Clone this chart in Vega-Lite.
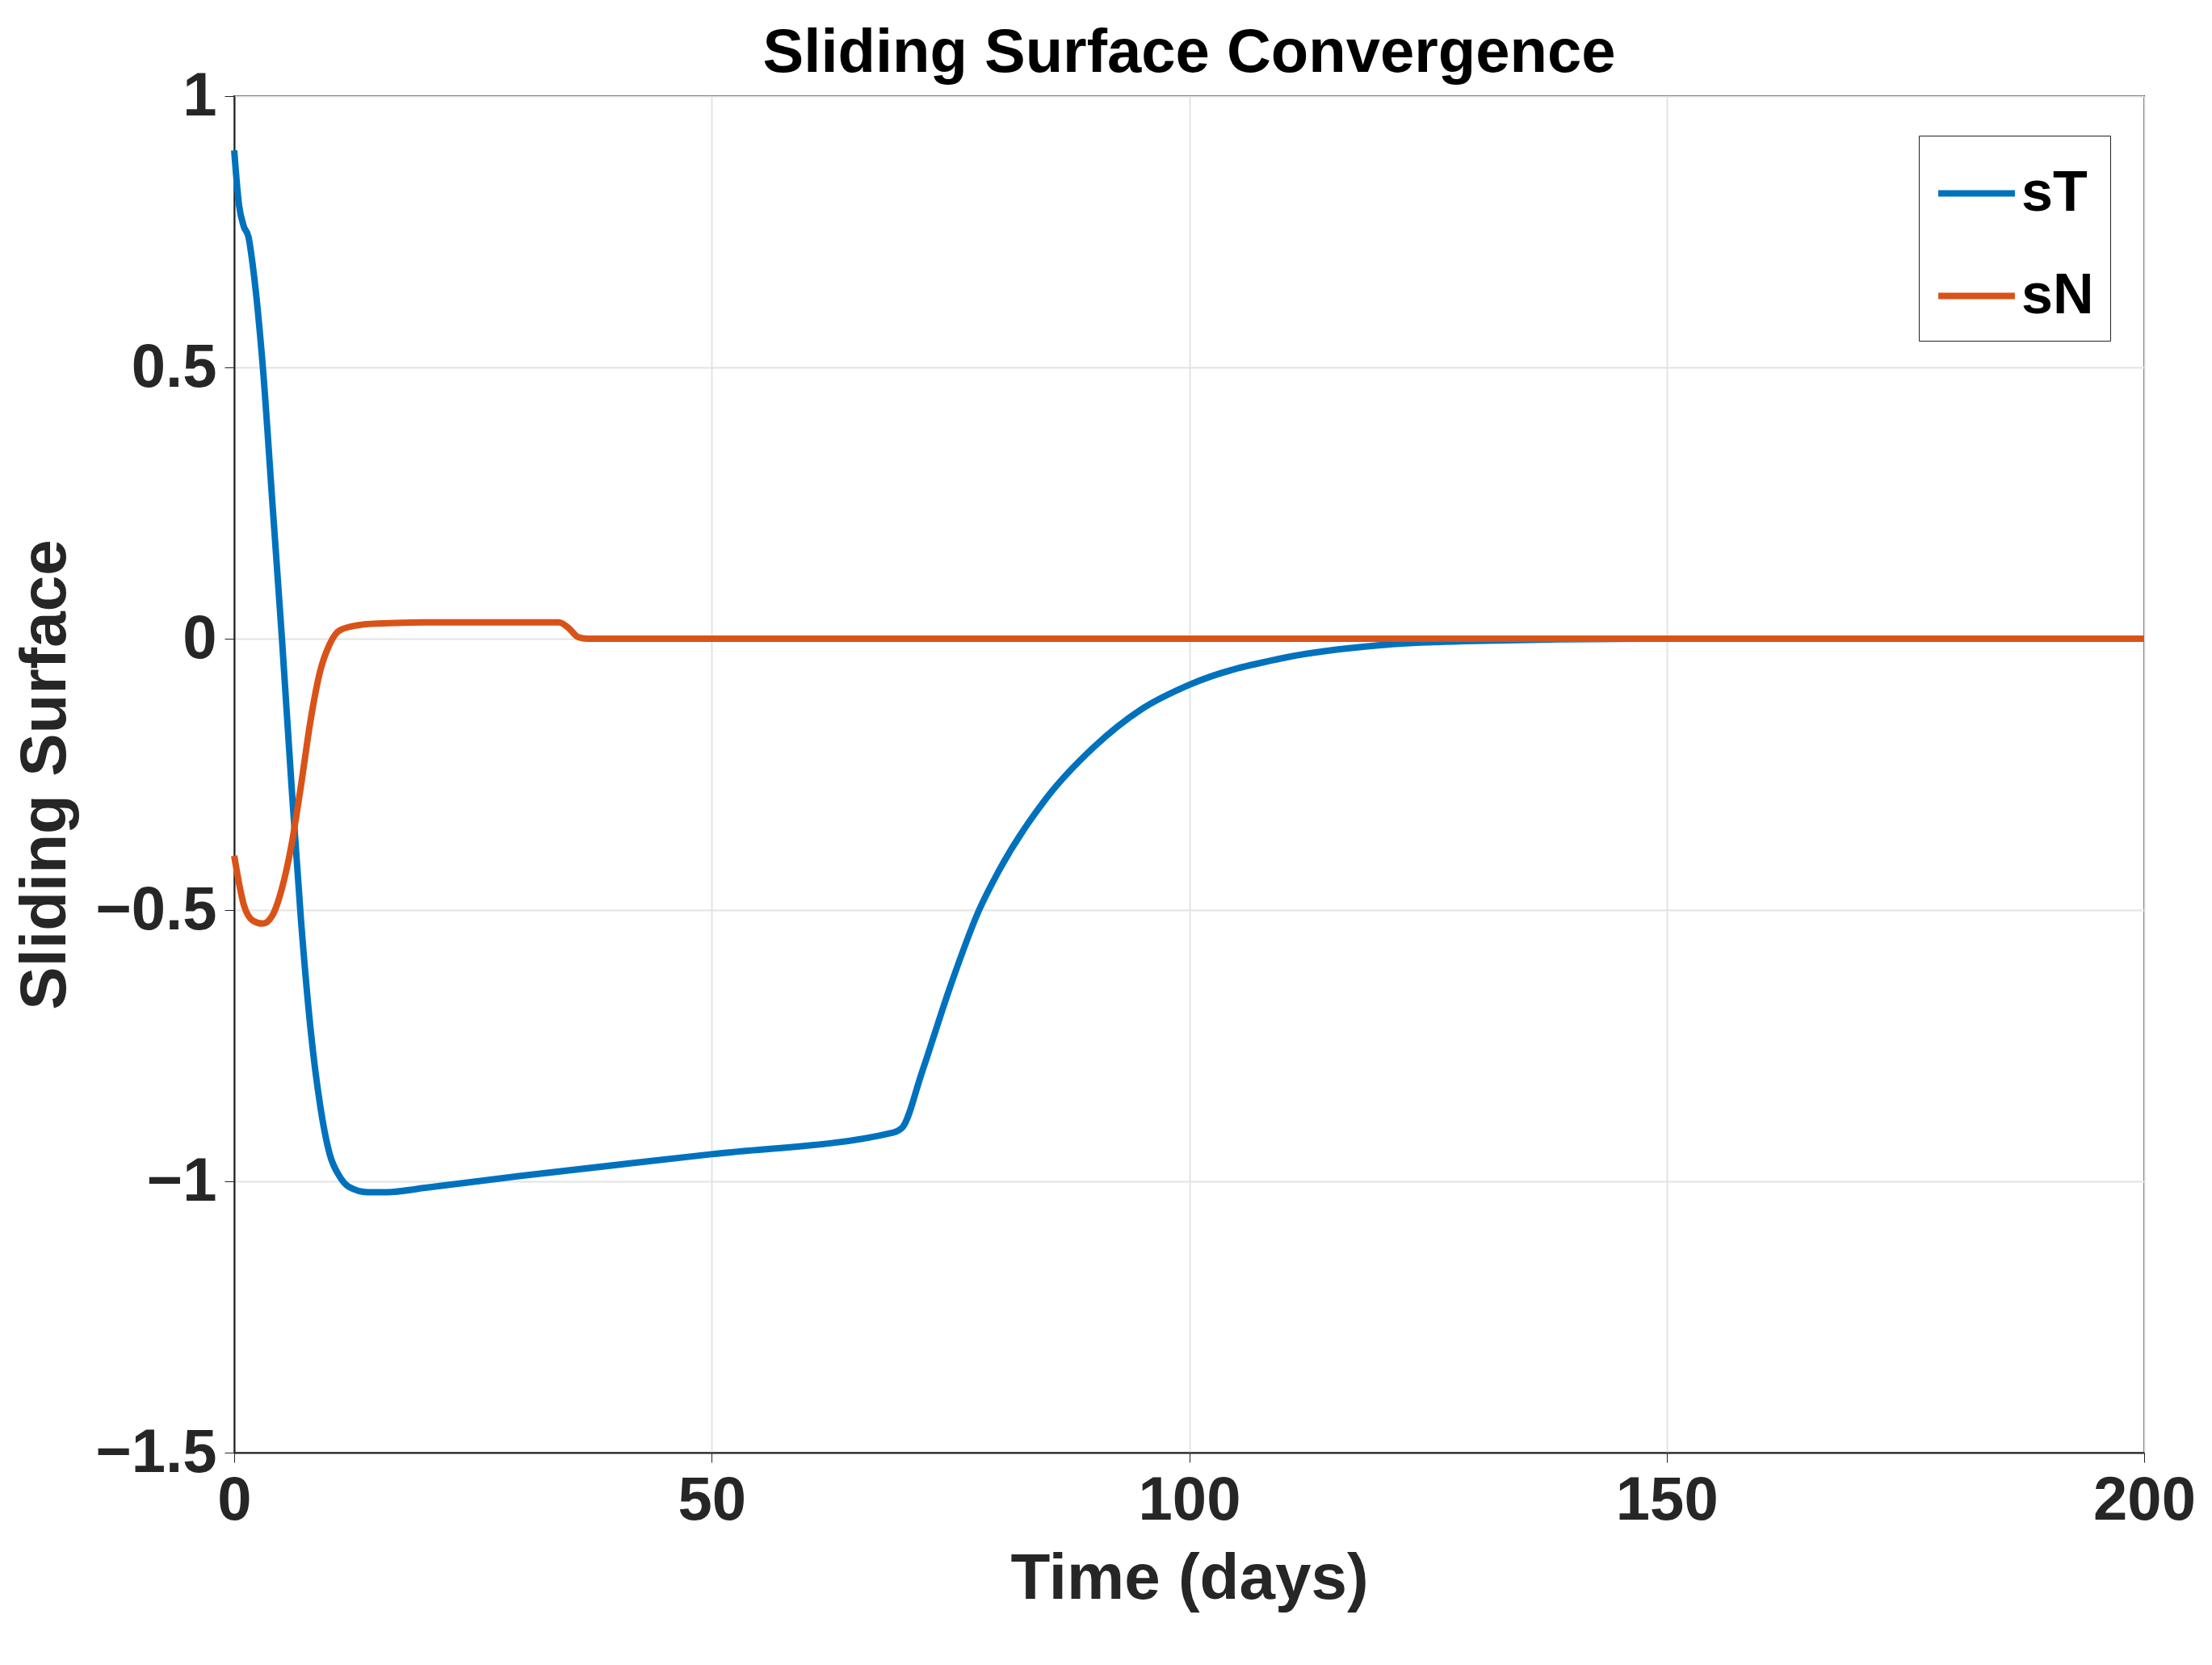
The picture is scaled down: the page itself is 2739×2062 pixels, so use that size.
{
"$schema":"https://vega.github.io/schema/vega-lite/v6.json",
"autosize":{"type":"none"},
"padding":{"left":290,"top":119,"right":84,"bottom":263},
"width":2365,"height":1680,
"background":"white",
"title":{"text":"Sliding Surface Convergence","fontSize":76,"font":"Liberation Sans","fontWeight":"bold","color":"#000","offset":-24},
"config":{"view":{"stroke":"#222","strokeWidth":2},"font":"Liberation Sans"},
"data":{"values":[
{"t":0,"v":0.9,"s":"sT"},{"t":0.5,"v":0.8,"s":"sT"},{"t":1,"v":0.76,"s":"sT"},{"t":1.5,"v":0.74,"s":"sT"},{"t":2,"v":0.68,"s":"sT"},{"t":3,"v":0.5,"s":"sT"},{"t":4,"v":0.25,"s":"sT"},{"t":5,"v":0.0,"s":"sT"},{"t":6,"v":-0.27,"s":"sT"},{"t":7,"v":-0.52,"s":"sT"},{"t":8,"v":-0.72,"s":"sT"},{"t":9,"v":-0.86,"s":"sT"},{"t":10,"v":-0.95,"s":"sT"},{"t":11,"v":-0.99,"s":"sT"},{"t":12,"v":-1.01,"s":"sT"},{"t":14,"v":-1.02,"s":"sT"},{"t":16,"v":-1.02,"s":"sT"},{"t":20,"v":-1.012,"s":"sT"},{"t":30,"v":-0.99,"s":"sT"},{"t":50,"v":-0.95,"s":"sT"},{"t":69,"v":-0.91,"s":"sT"},{"t":70,"v":-0.9,"s":"sT"},{"t":72,"v":-0.8,"s":"sT"},{"t":75,"v":-0.64,"s":"sT"},{"t":78,"v":-0.5,"s":"sT"},{"t":80,"v":-0.43,"s":"sT"},{"t":85,"v":-0.295,"s":"sT"},{"t":90,"v":-0.2,"s":"sT"},{"t":95,"v":-0.13,"s":"sT"},{"t":100,"v":-0.085,"s":"sT"},{"t":110,"v":-0.035,"s":"sT"},{"t":120,"v":-0.012,"s":"sT"},{"t":130,"v":-0.004,"s":"sT"},{"t":150,"v":0,"s":"sT"},{"t":200,"v":0,"s":"sT"},
{"t":0,"v":-0.4,"s":"sN"},{"t":1,"v":-0.49,"s":"sN"},{"t":2,"v":-0.52,"s":"sN"},{"t":3,"v":-0.525,"s":"sN"},{"t":4,"v":-0.51,"s":"sN"},{"t":5,"v":-0.46,"s":"sN"},{"t":6,"v":-0.38,"s":"sN"},{"t":7,"v":-0.27,"s":"sN"},{"t":8,"v":-0.15,"s":"sN"},{"t":9,"v":-0.06,"s":"sN"},{"t":10,"v":-0.01,"s":"sN"},{"t":11,"v":0.015,"s":"sN"},{"t":13,"v":0.025,"s":"sN"},{"t":15,"v":0.028,"s":"sN"},{"t":20,"v":0.03,"s":"sN"},{"t":34,"v":0.03,"s":"sN"},{"t":35,"v":0.02,"s":"sN"},{"t":36,"v":0.003,"s":"sN"},{"t":37,"v":0,"s":"sN"},{"t":200,"v":0,"s":"sN"}
]},
"mark":{"type":"line","strokeWidth":8,"interpolate":"monotone"},
"encoding":{
"x":{"field":"t","type":"quantitative","scale":{"domain":[0,200],"nice":false},"axis":{"title":"Time (days)","values":[0,50,100,150,200],"titleFontSize":80,"labelFontSize":76,"labelFontWeight":"bold","titleFontWeight":"bold","labelColor":"#262626","titleColor":"#262626","domainColor":"#222","domainWidth":2,"tickColor":"#222","tickSize":12,"gridColor":"#e3e3e3","gridWidth":2,"labelPadding":10,"titlePadding":20,"labelFlush":false}},
"y":{"field":"v","type":"quantitative","scale":{"domain":[-1.5,1],"nice":false},"axis":{"title":"Sliding Surface","values":[-1.5,-1,-0.5,0,0.5,1],"format":"~g","labelExpr":"replace(datum.label,'-','−')","titleFontSize":80,"labelFontSize":76,"labelFontWeight":"bold","titleFontWeight":"bold","labelColor":"#262626","titleColor":"#262626","domainColor":"#222","domainWidth":2,"tickColor":"#222","tickSize":12,"gridColor":"#e3e3e3","gridWidth":2,"labelPadding":10,"titlePadding":20}},
"color":{"field":"s","type":"nominal","scale":{"domain":["sT","sN"],"range":["#0072BD","#D95319"]},"legend":{"title":null,"orient":"none","legendX":2086,"legendY":49,"labelFontSize":70,"labelFontWeight":"bold","symbolType":"stroke","symbolSize":9000,"symbolStrokeWidth":8,"strokeColor":"#222","fillColor":"white","padding":20,"rowPadding":40,"labelColor":"#000"}}
}
}
